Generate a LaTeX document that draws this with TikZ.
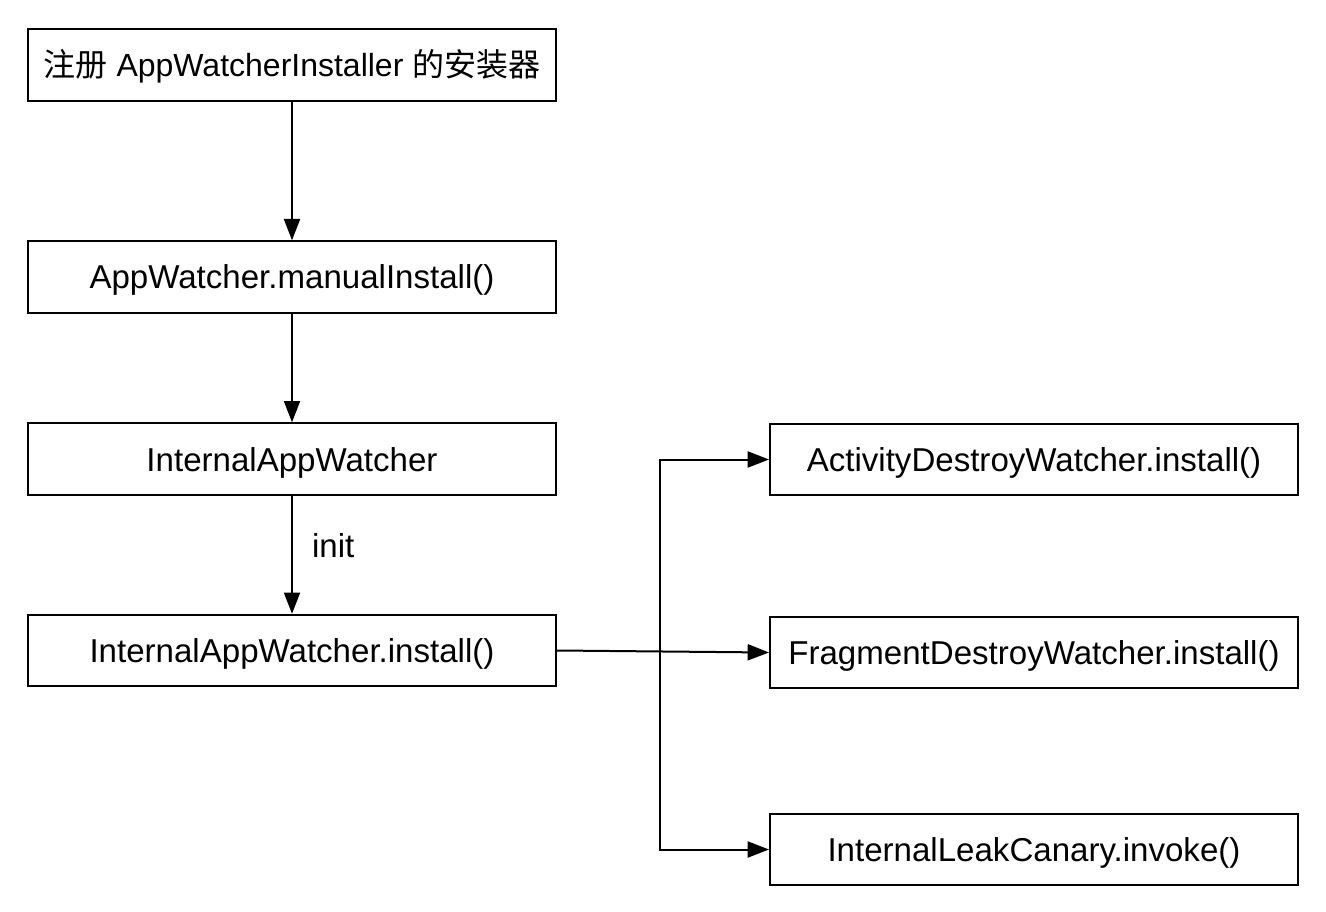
\documentclass[tikz,border=0pt]{standalone}
\usepackage{fontspec}
\setmainfont{Liberation Sans}
\newfontfamily\cjk{Noto Sans CJK SC}
\usetikzlibrary{arrows.meta}
\begin{document}
\begin{tikzpicture}[x=0.75pt,y=-0.75pt,
  txt/.style={font=\fontsize{24.8}{28}\selectfont},
  box/.style={draw=black,line width=1.5pt,minimum width=396pt,minimum height=53.5pt,inner sep=0pt,txt,text depth=0pt,text height=18pt},
  conn/.style={draw=black,line width=1.5pt,-{Triangle[length=16pt,width=12pt]}}]
\useasboundingbox (0,0) rectangle (1326,912);
\node[box,font=\fontsize{24}{28}\selectfont] (b1) at (292,65) {{\cjk 注册} AppWatcherInstaller {\cjk 的安装器}\hspace{4pt}};
\node[box] (b2) at (292,277) {AppWatcher.manualInstall()};
\node[box] (b3) at (292,459) {InternalAppWatcher};
\node[box] (b4) at (292,650.5) {InternalAppWatcher.install()};
\node[box] (r1) at (1034,459.5) {ActivityDestroyWatcher.install()};
\node[box] (r2) at (1034,652.5) {FragmentDestroyWatcher.install()};
\node[box] (r3) at (1034,849.5) {InternalLeakCanary.invoke()};
\draw[conn] (b1) -- (b2);
\draw[conn] (b2) -- (b3);
\draw[conn] (b3) -- node[right=11pt,txt,pos=0.42] (lbl) {init} (b4);
\coordinate (t) at (660,650.5);
\draw[conn] (b4.east) -- (r2.west);
\draw[conn] (t) |- (r1.west);
\draw[conn] (t) |- (r3.west);
\end{tikzpicture}
\end{document}
